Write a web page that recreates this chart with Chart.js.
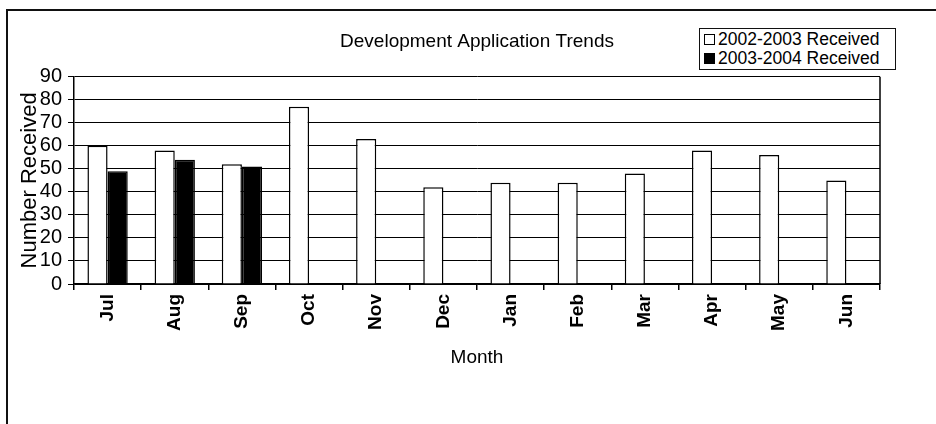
<!DOCTYPE html>
<html>
<head>
<meta charset="utf-8">
<script src="https://cdn.jsdelivr.net/npm/chart.js@4/dist/chart.umd.min.js"></script>
<style>
  html, body { margin: 0; padding: 0; background: #fff; }
  body { width: 936px; height: 424px; position: relative; overflow: hidden; font-family: "Liberation Sans", Arial, sans-serif; }
  #frame { position: absolute; left: 6px; top: 9px; width: 960px; height: 440px; border: 2px solid #111; box-sizing: border-box; }
  #wrap { position: absolute; left: 0; top: 0; width: 936px; height: 424px; }
  #legend { position: absolute; left: 699px; top: 28px; width: 197px; height: 42px; border: 1.5px solid #111; box-sizing: border-box; background: #fff; font-size: 17.5px; color: #000; padding: 1px 0 0 4px; }
  .leg-item { display: flex; align-items: center; height: 19px; white-space: nowrap; }
  .leg-sq { width: 11px; height: 11px; border: 1px solid #000; margin-right: 3px; box-sizing: border-box; }
</style>
</head>
<body>
<div id="frame"></div>
<div id="wrap"><canvas id="c" width="936" height="424"></canvas></div>
<div id="legend"></div>
<script>
const months = ["Jul", "Aug", "Sep", "Oct", "Nov", "Dec", "Jan", "Feb", "Mar", "Apr", "May", "Jun"];
const received0203 = [60, 58, 52, 77, 63, 42, 44, 44, 48, 58, 56, 45];
const received0304 = [49, 54, 51, null, null, null, null, null, null, null, null, null];
const yTicks = [0, 10, 20, 30, 40, 50, 60, 70, 80, 90];

const FONT = "'Liberation Sans', Arial, sans-serif";

// right edge of the plot box (Excel style frame around plot)
const plotBorder = {
  id: "plotBorder",
  afterDraw(chart) {
    const { ctx, chartArea: a } = chart;
    ctx.save();
    ctx.strokeStyle = "#000";
    ctx.lineWidth = 1.5;
    ctx.beginPath();
    ctx.moveTo(a.right, a.top);
    ctx.lineTo(a.right, a.bottom);
    ctx.stroke();
    ctx.restore();
  }
};

const chart = new Chart(document.getElementById("c"), {
  type: "bar",
  data: {
    labels: months,
    datasets: [
      { label: "2002-2003 Received", data: received0203, backgroundColor: "#fff", borderColor: "#000", borderWidth: 1.5 },
      { label: "2003-2004 Received", data: received0304, backgroundColor: "#000", borderColor: "#000", borderWidth: 1.5 },
    ],
  },
  options: {
    responsive: false, animation: false,
    layout: { padding: { left: 17, right: 56, top: 0, bottom: 0 } },
    datasets: { bar: { categoryPercentage: 0.6, barPercentage: 1.0 } },
    plugins: {
      legend: { display: false },
      tooltip: { enabled: false },
      title: {
        display: true, fullSize: false,
        text: "Development Application Trends",
        color: "#000",
        font: { family: FONT, size: 19, weight: "normal" },
        padding: { top: 30, bottom: 24 },
      },
    },
    scales: {
      x: {
        grid: { display: true, drawOnChartArea: false, drawTicks: true, tickLength: 6, offset: true, color: "#000", lineWidth: 1.5 },
        border: { display: true, color: "#000", width: 1.5 },
        ticks: { color: "#000", font: { family: FONT, size: 19, weight: "bold" }, minRotation: 90, maxRotation: 90, padding: 4, autoSkip: false },
        title: { display: true, text: "Month", color: "#000", font: { family: FONT, size: 19 }, padding: { top: 0, bottom: 55 } },
        afterFit: (s) => { s.height = 140; },
      },
      y: {
        min: 0, max: 90,
        afterBuildTicks: (s) => { s.ticks = yTicks.map((v) => ({ value: v })); },
        grid: { color: "#000", lineWidth: 1, tickLength: 6 },
        border: { display: true, color: "#000", width: 1.5 },
        ticks: { color: "#000", font: { family: FONT, size: 20 }, padding: 6, autoSkip: false },
        title: { display: true, text: "Number Received", color: "#000", font: { family: FONT, size: 22 }, padding: 0 },
        afterFit: (s) => { s.width = 57; },
      },
    },
  },
  plugins: [plotBorder],
});

// legend box built from the datasets
const leg = document.getElementById("legend");
chart.data.datasets.forEach((d) => {
  const row = document.createElement("div");
  row.className = "leg-item";
  row.innerHTML = '<div class="leg-sq" style="background:' + d.backgroundColor + '"></div>' + d.label;
  leg.appendChild(row);
});
</script>
</body>
</html>
